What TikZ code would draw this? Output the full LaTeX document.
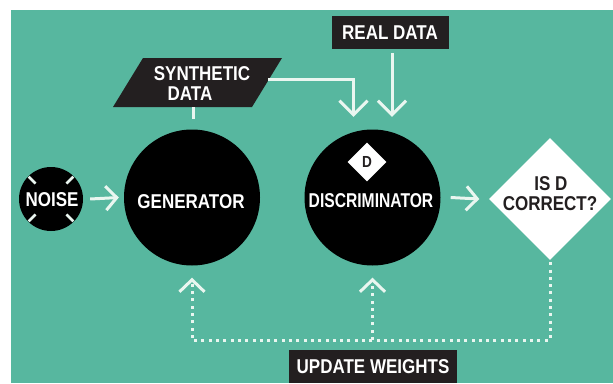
\documentclass[tikz,border=0pt]{standalone}
\usepackage{fontspec}
\usepackage{graphicx}
\newfontfamily\labfont[FakeStretch=0.85]{Liberation Sans}
\usetikzlibrary{arrows.meta,shapes.geometric,calc}
\definecolor{bgteal}{RGB}{87,183,159}
\definecolor{boxc}{RGB}{35,31,32}
\definecolor{linec}{RGB}{234,246,240}
\begin{document}
\begin{tikzpicture}[x=1pt,y=-1pt,
  lbl/.style={text=white,font=\labfont\bfseries\fontsize{20}{22}\selectfont,inner sep=0pt,anchor=base},
  dlbl/.style={lbl,text=boxc},
  blob/.style={circle,fill=black,inner sep=0pt,minimum size=#1},
  tagbox/.style={fill=boxc,inner sep=0pt,text depth=0pt,text=white,font=\labfont\bfseries\fontsize{20}{22}\selectfont},
  arrowline/.style={draw=linec,line width=3pt},
  hbarb/.style={-{Straight Barb[length=11pt,width=24pt]}},
  vbarb/.style={-{Straight Barb[length=14pt,width=28pt]}},
  ubarb/.style={-{Straight Barb[length=12pt,width=25pt]}},
  dotline/.style={draw=linec,line width=3pt,dash pattern=on 3pt off 4.3pt},
]
\useasboundingbox (0,0) rectangle (613,383);
\fill[white] (0,0) rectangle (613,383);
\fill[bgteal] (11,10) rectangle (613,383);

% shapes
\node[blob=64pt] (noise) at (51,199) {};
\node[blob=136pt] (gen) at (192,197.5) {};
\node[blob=136pt] (disc) at (372.5,197.5) {};
\node[diamond,fill=white,inner sep=0pt,minimum width=39pt,minimum height=39pt,text=boxc,text depth=0pt,
      font=\labfont\bfseries\fontsize{16}{18}\selectfont] (dmark) at (367,162) {D};
\node[diamond,fill=white,inner sep=0pt,minimum width=122pt,minimum height=122pt] (check) at (550,199) {};
\node[tagbox,minimum width=117pt,minimum height=33pt] (real) at (390,32.5) {REAL DATA};
\node[tagbox,minimum width=168pt,minimum height=33pt] (upd) at (373,366.5) {UPDATE WEIGHTS};
\fill[boxc] (143,58) -- (282,58) -- (252,107) -- (113,107) -- cycle;
\coordinate (synthR) at (268,79);
\coordinate (synthB) at (193,107);

% noise marks
\foreach \a in {45,135,225,315}
  \draw[linec,line width=2.5pt] ($(noise.center)!0.68!(noise.\a)$) -- ($(noise.center)!0.98!(noise.\a)$);

% labels
\node[lbl] (noiset) at (52,206.5) {NOISE};
\node[lbl] (gent) at (191,208) {GENERATOR};
\node[lbl] (disct) at (371,207) {\scalebox{0.92}[1]{DISCRIMINATOR}};
\node[dlbl] (ist) at (551,190) {IS D};
\node[dlbl] (corrt) at (550,210.7) {CORRECT?};
\node[lbl] (synt1) at (202,80.7) {SYNTHETIC};
\node[lbl] (synt2) at (190,100) {DATA};

% connectors
\draw[arrowline,hbarb] ([xshift=7pt]noise.east) -- ([xshift=-5pt]gen.west);
\draw[arrowline,hbarb] ([xshift=10pt]disc.east) -- ([xshift=-9.5pt]check.west);
\coordinate (stip) at ($(disc.north)+(-19,-12.5)$);
\coordinate (rtip) at ($(disc.north)+(19.5,-12.5)$);
\draw[arrowline,vbarb] (synthR) -| (stip);
\draw[arrowline,vbarb,shorten <=4pt] (real.south -| rtip) -- (rtip);
\draw[arrowline] (synthB) -- ++(0,12);
\coordinate (dotY) at (372.5,340);
\coordinate (gtip) at ($(gen.south)+(0,12)$);
\coordinate (dtip) at ($(disc.south)+(0,12)$);
\draw[dotline,ubarb] ([yshift=-2pt]check.south) -- (check.south |- dotY) -- (gtip |- dotY) -- (gtip);
\draw[dotline,ubarb] (dotY) -- (dtip);
\end{tikzpicture}
\end{document}
